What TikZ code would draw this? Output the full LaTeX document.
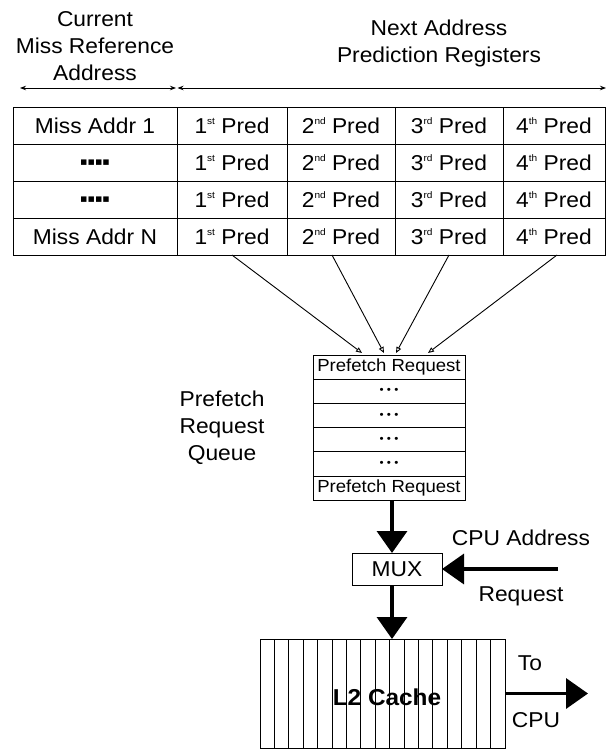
\documentclass[tikz,border=0pt]{standalone}
\usepackage{fontspec}
\setmainfont{Liberation Sans}[FakeStretch=1.06]
\newfontfamily\symfont{DejaVu Sans}
\usetikzlibrary{arrows.meta,calc}
\newcommand\sups[1]{\raisebox{0.42em}{\fontsize{9.5}{10}\selectfont #1}}
\newcommand\sqs{{\symfont\fontsize{11}{11}\selectfont ▪▪▪▪}}
\newcommand\qdots{{\fontsize{11}{11}\selectfont • • •}}
\begin{document}
\begin{tikzpicture}[x=1pt,y=-1pt,
  every node/.style={inner sep=0pt, outer sep=0pt},
  cell/.style={draw, line width=1pt, minimum height=37pt, font=\fontsize{21.5}{24}\selectfont},
  qrow/.style={draw, line width=1pt, minimum width=152pt, minimum height=24.2pt, font=\fontsize{17.5}{20}\selectfont},
  lbl/.style={font=\fontsize{21.5}{27}\selectfont, align=center},
  thinarrow/.style={line width=0.9pt, -{Triangle[open,length=6pt,width=5pt]}},
  dimline/.style={line width=1pt, {Stealth[length=6pt,width=4.5pt]}-{Stealth[length=6pt,width=4.5pt]}},
  bigarrow/.style={line width=3.5pt, -{Triangle[length=22pt,width=30pt]}}
]
\useasboundingbox (0,0) rectangle (607,750);

% header
\node[lbl] (hcur) at (95,46) {Current\\Miss Reference\\Address};
\node[lbl] (hnext) at (439,43) {Next Address\\Prediction Registers};
\coordinate (d1) at (20,88);
\coordinate (d2) at (176,88);
\coordinate (d3) at (177.5,88);
\coordinate (d4) at (606,88);
\draw[dimline] (d1) -- (d2);
\draw[dimline] (d3) -- (d4);

% table
\foreach \r/\y/\t in {1/125.5/Miss Addr 1, 2/162.5/\sqs, 3/199.5/\sqs, 4/236.5/Miss Addr N} {
  \node[cell, minimum width=164pt] (m\r) at (95,\y) {\t};
  \node[cell, minimum width=110pt] (p\r1) at (232,\y) {1\sups{st} Pred};
  \node[cell, minimum width=108pt] (p\r2) at (341,\y) {2\sups{nd} Pred};
  \node[cell, minimum width=108pt] (p\r3) at (449,\y) {3\sups{rd} Pred};
  \node[cell, minimum width=102pt] (p\r4) at (554,\y) {4\sups{th} Pred};
}

% queue
\node[qrow] (q1) at (389,367.1) {Prefetch Request};
\node[qrow] (q2) at (389,391.3) {\qdots};
\node[qrow] (q3) at (389,415.5) {\qdots};
\node[qrow] (q4) at (389,439.7) {\qdots};
\node[qrow] (q5) at (389,463.9) {\qdots};
\node[qrow] (q6) at (389,488.1) {Prefetch Request};
\node[lbl] (qlbl) at (222,428) {Prefetch\\Request\\Queue};

% connectors from predictions
\coordinate (t1) at (362,353);
\coordinate (t2) at (384,353);
\coordinate (t3) at (396,353);
\coordinate (t4) at (428,353);
\draw[thinarrow] (p41.south) -- (t1);
\draw[thinarrow] ([xshift=-9pt]p42.south) -- (t2);
\draw[thinarrow] (p43.south) -- (t3);
\draw[thinarrow] ([xshift=3pt]p44.south) -- (t4);

% MUX
\node[draw, line width=1pt, minimum width=90pt, minimum height=32pt, font=\fontsize{21.5}{24}\selectfont] (mux) at (397,569) {MUX};
\coordinate (ax) at (392,0);
\draw[bigarrow] (q6.south -| ax) -- (mux.north -| ax);

% CPU address request
\coordinate (cpuin) at (558,569);
\draw[bigarrow] (cpuin) -- (mux.east);
\node[lbl] (cpua) at (521,538) {CPU Address};
\node[lbl] (cpur) at (521,596) {Request};

% L2 cache
\node[draw, line width=1pt, minimum width=245pt, minimum height=109pt] (cache) at (382.5,693.5) {};
\foreach \i in {1,...,16} {
  \draw[line width=1pt] ($(cache.north west)+(14.41*\i,0)$) -- ($(cache.south west)+(14.41*\i,0)$);
}
\node[font=\fontsize{23}{26}\selectfont\bfseries] (l2) at (387,697) {L2 Cache};
\draw[bigarrow] (mux.south -| ax) -- (cache.north -| ax);

% to CPU
\coordinate (tocpu) at (588,693.5);
\draw[bigarrow] (cache.east) -- (tocpu);
\node[lbl] (to) at (530,663) {To};
\node[lbl] (cpu) at (536,720) {CPU};
\end{tikzpicture}
\end{document}
